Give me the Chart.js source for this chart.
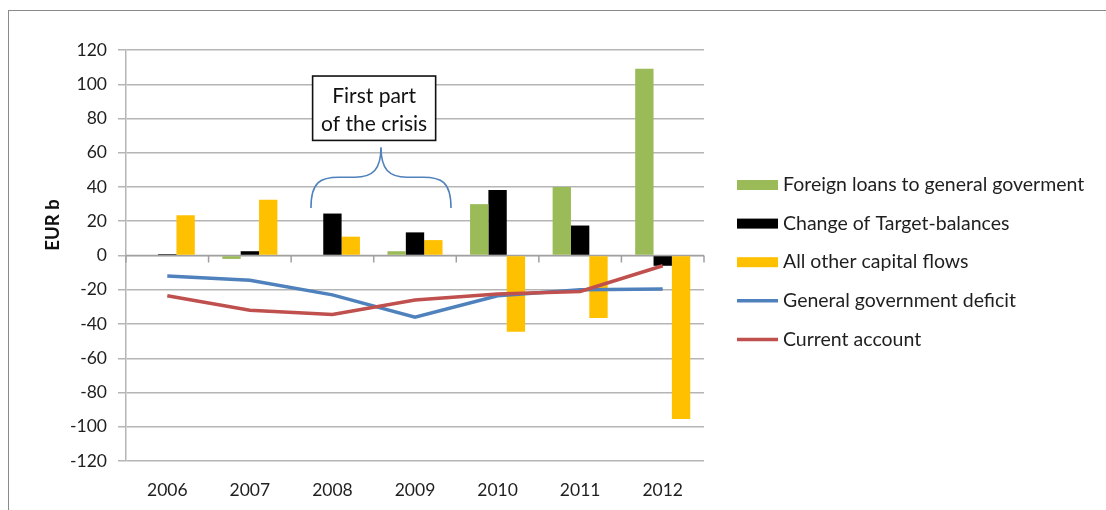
<!DOCTYPE html>
<html>
<head>
<meta charset="utf-8">
<script src="https://cdn.jsdelivr.net/npm/chart.js@4.4.0/dist/chart.umd.min.js"></script>
<style>
  html, body { margin: 0; padding: 0; background: #fff; }
  #wrap { position: relative; width: 1106px; height: 510px; }
</style>
</head>
<body>
<div id="wrap"><canvas id="c" width="1106" height="510"></canvas></div>
<script>
const years = ['2006', '2007', '2008', '2009', '2010', '2011', '2012'];
const foreignLoans = [null, -2, null, 2.5, 30, 40, 109];
const targetChange = [0.8, 2.5, 24.5, 13.5, 38.3, 17.5, -6];
const otherFlows = [23.5, 32.5, 11, 9, -44.5, -36.5, -95.5];
const govDeficit = [-12, -14.5, -23, -36, -23.5, -20, -19.5];
const currentAccount = [-23.5, -32, -34.5, -26, -22.5, -21, -6];
const seriesNames = ['Foreign loans to general goverment', 'Change of Target-balances', 'All other capital flows', 'General government deficit', 'Current account'];
const yTitle = 'EUR b';
const noteLines = ['First part', 'of the crisis'];

const FONT = 'Lato, "Open Sans", sans-serif';
const GRID = '#B5B5B5';
const TEXT = '#1f1f1f';

const extras = {
  id: 'extras',
  beforeDraw(chart) {
    const ctx = chart.ctx;
    ctx.save();
    ctx.fillStyle = '#fff';
    ctx.fillRect(0, 0, chart.width, chart.height);
    ctx.strokeStyle = '#8a8a8a';
    ctx.lineWidth = 1;
    ctx.strokeRect(8.5, 10.5, chart.width + 10, chart.height + 10);
    ctx.restore();
  },
  beforeDatasetsDraw(chart) {
    const ctx = chart.ctx, xs = chart.scales.x, ys = chart.scales.y;
    const y0 = ys.getPixelForValue(0);
    ctx.save();
    ctx.strokeStyle = '#A0A0A0';
    ctx.lineWidth = 1.5;
    ctx.beginPath();
    ctx.moveTo(chart.chartArea.left, y0);
    ctx.lineTo(chart.chartArea.right, y0);
    for (let i = 0; i <= years.length; i++) {
      const x = xs.getPixelForValue(i - 0.5);
      ctx.moveTo(x, y0);
      ctx.lineTo(x, y0 + 7);
    }
    ctx.stroke();
    ctx.restore();
  },
  afterDraw(chart) {
    const ctx = chart.ctx, xs = chart.scales.x, ys = chart.scales.y;
    ctx.save();
    // y axis title
    ctx.translate(53, 225);
    ctx.rotate(-Math.PI / 2);
    ctx.fillStyle = '#111';
    ctx.font = 'bold 18.5px ' + FONT;
    ctx.textAlign = 'center';
    ctx.textBaseline = 'middle';
    ctx.fillText(yTitle, 0, 0);
    ctx.restore();

    // annotation box
    ctx.save();
    const bl = xs.getPixelForValue(1.76), br = xs.getPixelForValue(3.25);
    const bt = ys.getPixelForValue(104.8), bb = ys.getPixelForValue(67.2);
    ctx.fillStyle = '#fff';
    ctx.fillRect(bl, bt, br - bl, bb - bt);
    ctx.strokeStyle = '#111';
    ctx.lineWidth = 1.6;
    ctx.strokeRect(bl, bt, br - bl, bb - bt);
    ctx.fillStyle = '#111';
    ctx.font = '21px ' + FONT;
    ctx.textAlign = 'center';
    ctx.textBaseline = 'middle';
    const bc = (bl + br) / 2;
    ctx.fillText(noteLines[0], bc, bt + 20);
    ctx.fillText(noteLines[1], bc, bt + 48);

    // brace
    const L = xs.getPixelForValue(1.74), R = xs.getPixelForValue(3.436), M = (L + R) / 2;
    const yEnd = ys.getPixelForValue(27.8), yMid = ys.getPixelForValue(45.7), yTop = ys.getPixelForValue(63.2);
    ctx.strokeStyle = '#4F81BD';
    ctx.lineWidth = 1.6;
    ctx.beginPath();
    ctx.moveTo(L, yEnd);
    ctx.bezierCurveTo(L, yMid + 4, L + 10, yMid, L + 28, yMid);
    ctx.lineTo(M - 26, yMid);
    ctx.bezierCurveTo(M - 8, yMid, M, yMid - 8, M, yTop);
    ctx.bezierCurveTo(M, yMid - 8, M + 8, yMid, M + 26, yMid);
    ctx.lineTo(R - 28, yMid);
    ctx.bezierCurveTo(R - 10, yMid, R, yMid + 4, R, yEnd);
    ctx.stroke();
    ctx.restore();

    // legend
    ctx.save();
    const lx = 737, tx = 783, ly0 = 185, step = 38.6;
    ctx.font = '19.5px ' + FONT;
    ctx.textBaseline = 'middle';
    ctx.textAlign = 'left';
    chart.data.datasets.forEach((ds, i) => {
      const y = ly0 + i * step;
      if (ds.type === 'line') {
        ctx.strokeStyle = ds.borderColor;
        ctx.lineWidth = 3.5;
        ctx.beginPath();
        ctx.moveTo(lx, y);
        ctx.lineTo(lx + 41, y);
        ctx.stroke();
      } else {
        ctx.fillStyle = ds.backgroundColor;
        ctx.fillRect(lx, y - 5, 41, 10);
      }
      ctx.fillStyle = TEXT;
      ctx.fillText(ds.label, tx, y);
    });
    ctx.restore();
  }
};

new Chart(document.getElementById('c'), {
  data: {
    labels: years,
    datasets: [
      { type: 'bar', label: seriesNames[0], data: foreignLoans, backgroundColor: '#9BBB59', order: 2 },
      { type: 'bar', label: seriesNames[1], data: targetChange, backgroundColor: '#000000', order: 2 },
      { type: 'bar', label: seriesNames[2], data: otherFlows, backgroundColor: '#FFC000', order: 2 },
      { type: 'line', label: seriesNames[3], data: govDeficit, borderColor: '#4F81BD', backgroundColor: '#4F81BD', borderWidth: 3.5, pointRadius: 0, tension: 0, order: 1 },
      { type: 'line', label: seriesNames[4], data: currentAccount, borderColor: '#C0504D', backgroundColor: '#C0504D', borderWidth: 3.5, pointRadius: 0, tension: 0, order: 0 }
    ]
  },
  options: {
    responsive: false,
    animation: false,
    devicePixelRatio: 1,
    layout: { padding: { left: 0, top: 50, right: 402, bottom: 0 } },
    datasets: { bar: { categoryPercentage: 0.6667, barPercentage: 1.0, grouped: true } },
    plugins: { legend: { display: false }, tooltip: { enabled: false } },
    scales: {
      x: {
        offset: true,
        grid: { display: false, drawTicks: false },
        border: { display: false },
        ticks: { font: { family: FONT, size: 17.5 }, color: TEXT, padding: 19 },
        afterFit(s) { s.height = 49; }
      },
      y: {
        min: -120, max: 120,
        ticks: { stepSize: 20, font: { family: FONT, size: 17.5 }, color: TEXT, padding: 11 },
        grid: { color: GRID, lineWidth: 1.5, tickLength: 8, drawTicks: true },
        border: { display: true, color: GRID, width: 1.5 },
        afterFit(s) { s.width = 126; }
      }
    }
  },
  plugins: [extras]
});
</script>
</body>
</html>
